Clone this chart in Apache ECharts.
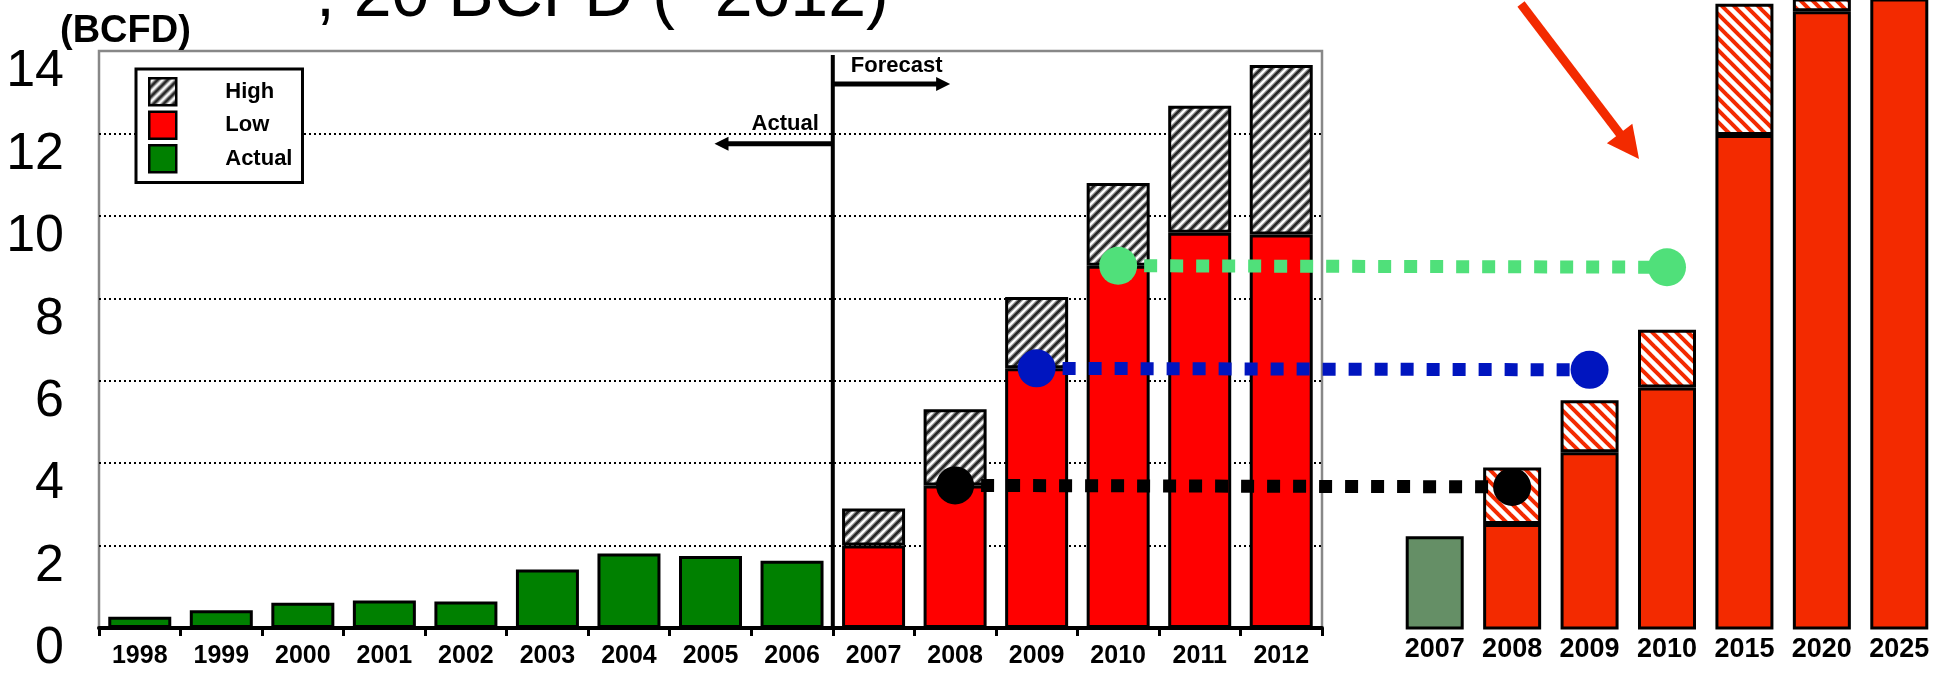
<!DOCTYPE html>
<html>
<head>
<meta charset="utf-8">
<script src="https://cdn.jsdelivr.net/npm/echarts@6/dist/echarts.min.js"></script>
<style>
  html, body { margin: 0; padding: 0; background: #ffffff; }
  #chart { width: 1938px; height: 679px; }
</style>
</head>
<body>
<div id="chart"></div>
<script>
// ---- Main panel: supply in BCFD, actual history and forecast cases ----
const years = ['1998', '1999', '2000', '2001', '2002', '2003', '2004', '2005',
               '2006', '2007', '2008', '2009', '2010', '2011', '2012'];
const actual   = [0.27, 0.43, 0.61, 0.67, 0.64, 1.42, 1.81, 1.75, 1.63, '-', '-', '-', '-', '-', '-'];
const lowCase  = ['-', '-', '-', '-', '-', '-', '-', '-', '-', 2.0, 3.46, 6.30, 8.79, 9.59, 9.55];
const highCase = ['-', '-', '-', '-', '-', '-', '-', '-', '-', 2.9, 5.31, 8.03, 10.80, 12.67, 13.66];

// ---- Side panel: later outlook ----
const sideYears = ['2007', '2008', '2009', '2010', '2015', '2020', '2025'];
const sideActual = [2.26, '-', '-', '-', '-', '-', '-'];
const sideLow    = ['-', 2.56, 4.30, 5.87, 12.0, 15.0, 17.5];
const sideHigh   = ['-', 3.93, 5.56, 7.27, 15.18, 16.6, 19.5];

// ---- Years whose low case is carried across to the side panel ----
const linkYears  = ['2008', '2009', '2010'];
const linkColors = ['#000000', '#0015bf', '#50e07a'];

const FONT = '"Liberation Sans", Arial, Helvetica, sans-serif';

// Both panels share one vertical scale (pixels per BCFD)
const MAIN_TOP = 51, MAIN_HEIGHT = 577, MAIN_MAX = 14;
const PX_PER_UNIT = MAIN_HEIGHT / MAIN_MAX;
const SIDE_BOTTOM = 629.5;
const SIDE_MAX = SIDE_BOTTOM / PX_PER_UNIT;

// Stacking needs the increment of high over low
const increment = (hi, lo) => hi.map((h, i) => (h === '-' || lo[i] === '-') ? '-' : +(h - lo[i]).toFixed(3));

// Hatch fills
function hatch(size, bg, strokes, forward) {
  const c = document.createElement('canvas');
  c.width = size; c.height = size;
  const g = c.getContext('2d');
  g.fillStyle = bg; g.fillRect(0, 0, size, size);
  strokes.forEach(([color, w]) => {
    g.strokeStyle = color; g.lineWidth = w; g.lineCap = 'square';
    for (let k = -1; k <= 1; k++) {
      g.beginPath();
      if (forward) { g.moveTo(k * size, size); g.lineTo(k * size + size, 0); }
      else { g.moveTo(k * size, 0); g.lineTo(k * size + size, size); }
      g.stroke();
    }
  });
  return { image: c, repeat: 'repeat' };
}
const greyHatch = hatch(10, '#ffffff', [['#9a9a9a', 5], ['#262626', 2.6]], true);
const redHatch = hatch(12, '#ffffff', [['#f32a00', 4]], false);

const chart = echarts.init(document.getElementById('chart'), null, { renderer: 'canvas' });

const barBorder = { borderColor: '#000000', borderWidth: 3 };

chart.setOption({
  animation: false,
  backgroundColor: '#ffffff',
  textStyle: { fontFamily: FONT },
  grid: [
    { left: 99, top: MAIN_TOP, width: 1223, height: MAIN_HEIGHT, show: true,
      borderColor: '#888888', borderWidth: 2.5, backgroundColor: 'transparent' },
    { left: 1396, top: 0, width: 546, height: SIDE_BOTTOM }
  ],
  legend: {
    data: ['High', 'Low', 'Actual'],
    orient: 'vertical',
    left: 136, top: 69,
    icon: 'rect',
    itemWidth: 27, itemHeight: 27, itemGap: 4,
    padding: [8, 10, 9, 12],
    backgroundColor: '#ffffff',
    borderColor: '#000000', borderWidth: 3,
    selectedMode: false,
    itemStyle: { borderColor: '#000000', borderWidth: 2.5 },
    textStyle: { fontFamily: FONT, fontSize: 22, fontWeight: 'bold', color: '#000000', padding: [0, 0, 0, 44] }
  },
  xAxis: [
    { type: 'category', gridIndex: 0, data: years,
      axisLine: { lineStyle: { color: '#000000', width: 4 } },
      axisTick: { show: true, length: 8, lineStyle: { color: '#000000', width: 3 } },
      axisLabel: { interval: 0, fontFamily: FONT, fontSize: 25, fontWeight: 'bold', color: '#000000', margin: 16 },
      splitLine: { show: false } },
    { type: 'category', gridIndex: 1, data: sideYears,
      axisLine: { show: false }, axisTick: { show: false },
      axisLabel: { interval: 0, fontFamily: FONT, fontSize: 27, fontWeight: 'bold', color: '#000000', margin: 7 },
      splitLine: { show: false } }
  ],
  yAxis: [
    { type: 'value', gridIndex: 0, min: 0, max: MAIN_MAX, interval: 2,
      axisLine: { show: false }, axisTick: { show: false },
      axisLabel: { fontFamily: FONT, fontSize: 52, color: '#000000', margin: 35,
                   verticalAlign: 'top', lineHeight: 42 },
      splitLine: { show: true, showMinLine: false, showMaxLine: false,
                   lineStyle: { color: '#000000', width: 2, type: [2, 3] } } },
    { type: 'value', gridIndex: 1, min: 0, max: SIDE_MAX, show: false, splitLine: { show: false } }
  ],
  series: [
    { name: 'Actual', type: 'bar', stack: 'main', xAxisIndex: 0, yAxisIndex: 0, barWidth: 63,
      data: actual, itemStyle: Object.assign({ color: '#008000' }, barBorder) },
    { name: 'Low', type: 'bar', stack: 'main', xAxisIndex: 0, yAxisIndex: 0, barWidth: 63,
      data: lowCase, itemStyle: Object.assign({ color: '#ff0000' }, barBorder) },
    { name: 'High', type: 'bar', stack: 'main', xAxisIndex: 0, yAxisIndex: 0, barWidth: 63,
      data: increment(highCase, lowCase), itemStyle: Object.assign({ color: greyHatch }, barBorder) },
    { name: 'Outlook actual', type: 'bar', stack: 'side', xAxisIndex: 1, yAxisIndex: 1, barWidth: 58,
      data: sideActual, itemStyle: Object.assign({ color: '#658f66' }, barBorder) },
    { name: 'Outlook low', type: 'bar', stack: 'side', xAxisIndex: 1, yAxisIndex: 1, barWidth: 58,
      data: sideLow, itemStyle: Object.assign({ color: '#f32a00' }, barBorder) },
    { name: 'Outlook high', type: 'bar', stack: 'side', xAxisIndex: 1, yAxisIndex: 1, barWidth: 58,
      data: increment(sideHigh, sideLow), itemStyle: Object.assign({ color: redHatch }, barBorder) }
  ]
});

// ---- Annotations placed through the axes ----
const P0 = (cat, v) => chart.convertToPixel({ xAxisIndex: 0, yAxisIndex: 0 }, [cat, v]);
const P1 = (cat, v) => chart.convertToPixel({ xAxisIndex: 1, yAxisIndex: 1 }, [cat, v]);

const graphics = [];

// Actual / Forecast divider
const divX = (P0('2006', 0)[0] + P0('2007', 0)[0]) / 2;
const divTop = P0('2006', 13.9)[1];
const base = P0('2006', 0)[1];
graphics.push({ type: 'line', z: 50, shape: { x1: divX, y1: divTop, x2: divX, y2: base },
                style: { stroke: '#000000', lineWidth: 4 } });

function arrow(x1, x2, y) {
  const dir = Math.sign(x2 - x1);
  graphics.push({ type: 'line', z: 50, shape: { x1: x1, y1: y, x2: x2 - dir * 10, y2: y },
                  style: { stroke: '#000000', lineWidth: 5 } });
  graphics.push({ type: 'polygon', z: 50,
                  shape: { points: [[x2, y], [x2 - dir * 14, y - 7], [x2 - dir * 14, y + 7]] },
                  style: { fill: '#000000' } });
}
const fY = P0('2007', 13.2)[1];
const aY = P0('2006', 11.75)[1];
arrow(divX, P0('2008', 0)[0] - 5, fY);
arrow(divX, P0('2005', 0)[0] + 4, aY);
graphics.push({ type: 'text', z: 50, style: { text: 'Forecast', x: divX + 18, y: fY - 18,
  align: 'left', verticalAlign: 'middle', fontFamily: FONT, fontSize: 22, fontWeight: 'bold', fill: '#000000' } });
graphics.push({ type: 'text', z: 50, style: { text: 'Actual', x: divX - 14, y: aY - 20,
  align: 'right', verticalAlign: 'middle', fontFamily: FONT, fontSize: 22, fontWeight: 'bold', fill: '#000000' } });

// Unit label and heading
graphics.push({ type: 'text', z: 50, style: { text: '(BCFD)', x: 60, y: 32,
  align: 'left', verticalAlign: 'middle', fontFamily: FONT, fontSize: 38, fontWeight: 'bold', fill: '#000000' } });
graphics.push({ type: 'text', z: 50, style: { text: ', 20 BCFD (~2012)', x: 316, y: -3,
  align: 'left', verticalAlign: 'middle', fontFamily: FONT, fontSize: 68, fill: '#000000' } });

// Low-case levels carried across to the outlook bars
linkYears.forEach((yr, i) => {
  const v = lowCase[years.indexOf(yr)];
  const a = P0(yr, v);
  const b = P1(yr, v);
  graphics.push({ type: 'line', z: 60, shape: { x1: a[0], y1: a[1], x2: b[0], y2: b[1] },
                  style: { stroke: linkColors[i], lineWidth: 13, lineDash: [13, 13], lineCap: 'butt' } });
  graphics.push({ type: 'circle', z: 61, shape: { cx: a[0], cy: a[1], r: 19 }, style: { fill: linkColors[i] } });
  graphics.push({ type: 'circle', z: 61, shape: { cx: b[0], cy: b[1], r: 19 }, style: { fill: linkColors[i] } });
});

// Pointer into the outlook panel
(function () {
  const sx = 1521, sy = 4, tx = 1639, ty = 159;
  const dx = tx - sx, dy = ty - sy, len = Math.hypot(dx, dy);
  const ux = dx / len, uy = dy / len, nx = -uy, ny = ux;
  const headLen = 32, headHalf = 16;
  const bx = tx - ux * headLen, by = ty - uy * headLen;
  graphics.push({ type: 'line', z: 55, shape: { x1: sx, y1: sy, x2: bx + ux * 2, y2: by + uy * 2 },
                  style: { stroke: '#f32a00', lineWidth: 9 } });
  graphics.push({ type: 'polygon', z: 55,
                  shape: { points: [[tx, ty], [bx + nx * headHalf, by + ny * headHalf], [bx - nx * headHalf, by - ny * headHalf]] },
                  style: { fill: '#f32a00' } });
})();

chart.setOption({ graphic: graphics });
</script>
</body>
</html>
